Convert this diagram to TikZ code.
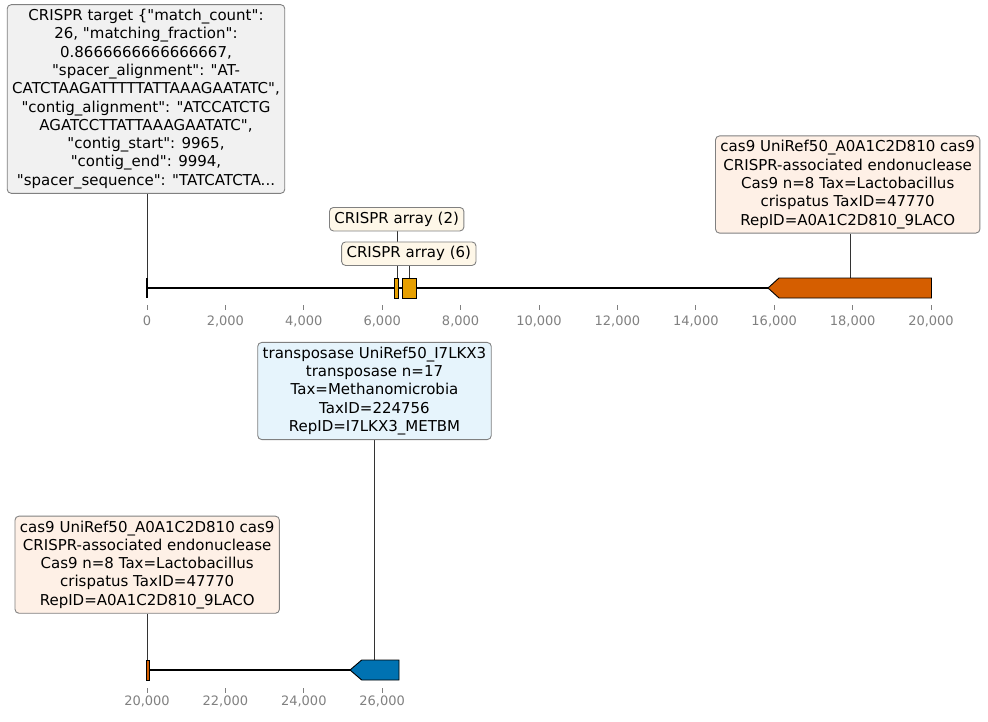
\documentclass[tikz,border=0pt]{standalone}
\usepackage{fontspec}
\setmainfont{DejaVu Sans}[Ligatures=TeXOff]
\usetikzlibrary{backgrounds}
\definecolor{casorange}{HTML}{D55E00}
\definecolor{crisprorange}{HTML}{E69F00}
\definecolor{transblue}{HTML}{0072B2}
\definecolor{tickgray}{HTML}{808080}
\definecolor{casfill}{HTML}{FEF0E6}
\definecolor{crisprfill}{HTML}{FEF7E8}
\definecolor{transfill}{HTML}{E6F4FC}
\definecolor{tgtfill}{HTML}{F1F1F1}
\begin{document}
\begin{tikzpicture}[x=1pt,y=-1pt,
  lbl/.style={draw=tickgray, line width=0.9pt, rounded corners=4pt, align=center,
    font=\fontsize{15}{18.3}\selectfont, inner xsep=5pt, inner ysep=4.5pt},
  feat/.style={draw=black, line width=0.9pt},
  conn/.style={draw=black!80, line width=0.7pt},
  axisline/.style={line width=1.6pt},
  tickmark/.style={draw=tickgray, line width=0.8pt},
  ticklbl/.style={text=tickgray, font=\fontsize{13}{15}\selectfont, inner sep=0pt, anchor=base}]
\useasboundingbox (0,0) rectangle (988,721);

% ---- label boxes ----
\node[lbl, fill=tgtfill] (tgt) at (146,99) {CRISPR target \{"match\_count":\\
26, "matching\_fraction":\\
0.8666666666666667,\\
"spacer\_alignment": "AT-\\
CATCTAAGATTTTTATTAAAGAATATC",\\
"contig\_alignment": "ATCCATCTG\\
AGATCCTTATTAAAGAATATC",\\
"contig\_start": 9965,\\
"contig\_end": 9994,\\
"spacer\_sequence": "TATCATCTA...};
\node[lbl, fill=crisprfill] (a2) at (396.7,219.2) {CRISPR array (2)};
\node[lbl, fill=crisprfill] (a6) at (408.8,253.7) {CRISPR array (6)};
\node[lbl, fill=casfill] (c9a) at (847.7,184.5) {cas9 UniRef50\_A0A1C2D810 cas9\\
CRISPR-associated endonuclease\\
Cas9 n=8 Tax=Lactobacillus\\
crispatus TaxID=47770\\
RepID=A0A1C2D810\_9LACO};
\node[lbl, fill=transfill] (tr) at (374.5,391) {transposase UniRef50\_I7LKX3\\
transposase n=17\\
Tax=Methanomicrobia\\
TaxID=224756\\
RepID=I7LKX3\_METBM};
\node[lbl, fill=casfill] (c9b) at (147.2,564.7) {cas9 UniRef50\_A0A1C2D810 cas9\\
CRISPR-associated endonuclease\\
Cas9 n=8 Tax=Lactobacillus\\
crispatus TaxID=47770\\
RepID=A0A1C2D810\_9LACO};

% ---- feature attach points ----
\coordinate (ftgt) at (147,278);
\coordinate (fa2) at (397.3,278);
\coordinate (fa6) at (409.3,278);
\coordinate (fc9a) at (850.7,278);
\coordinate (ftr) at (374,660);
\coordinate (fc9b) at (147,660);

% ---- connectors ----
\begin{pgfonlayer}{background}
\draw[conn] (tgt.south -| ftgt) -- (ftgt);
\draw[conn] (a2.south -| fa2) -- (fa2);
\draw[conn] (a6.south -| fa6) -- (fa6);
\draw[conn] (c9a.south -| fc9a) -- (fc9a);
\draw[conn] (tr.south -| ftr) -- (ftr);
\draw[conn] (c9b.south -| fc9b) -- (fc9b);
\end{pgfonlayer}

% ---- top track ----
\coordinate (topL) at (147,288);
\coordinate (topR) at (768,288);
\draw[axisline] (topL) -- (topR);
\draw[feat, line width=1.2pt] (147,278) -- (147,298);
\draw[feat, fill=crisprorange] (394,278) rectangle (398.7,298);
\draw[feat, fill=crisprorange] (402,278) rectangle (416.7,298);
\draw[feat, fill=casorange] (931.5,278) -- (779,278) -- (768,288) -- (779,298) -- (931.5,298) -- cycle;

\foreach \k/\t in {0/0,1/{2,000},2/{4,000},3/{6,000},4/{8,000},5/{10,000},6/{12,000},7/{14,000},8/{16,000},9/{18,000},10/{20,000}} {
  \draw[tickmark] (147+78.4*\k,305) -- (147+78.4*\k,309.5);
  \node[ticklbl] (tt\k) at (147+78.4*\k,325.8) {\t};
}

% ---- bottom track ----
\coordinate (botL) at (147,670);
\coordinate (botR) at (350,670);
\draw[axisline] (botL) -- (botR);
\draw[feat, fill=casorange] (146,660) rectangle (149.3,680);
\draw[feat, fill=transblue] (399,660) -- (361.7,660) -- (350,670) -- (361.7,680) -- (399,680) -- cycle;

\foreach \k/\t in {0/{20,000},1/{22,000},2/{24,000},3/{26,000}} {
  \draw[tickmark] (147+78.4*\k,688) -- (147+78.4*\k,692.5);
  \node[ticklbl] (tb\k) at (147+78.4*\k,705.8) {\t};
}
\end{tikzpicture}
\end{document}
